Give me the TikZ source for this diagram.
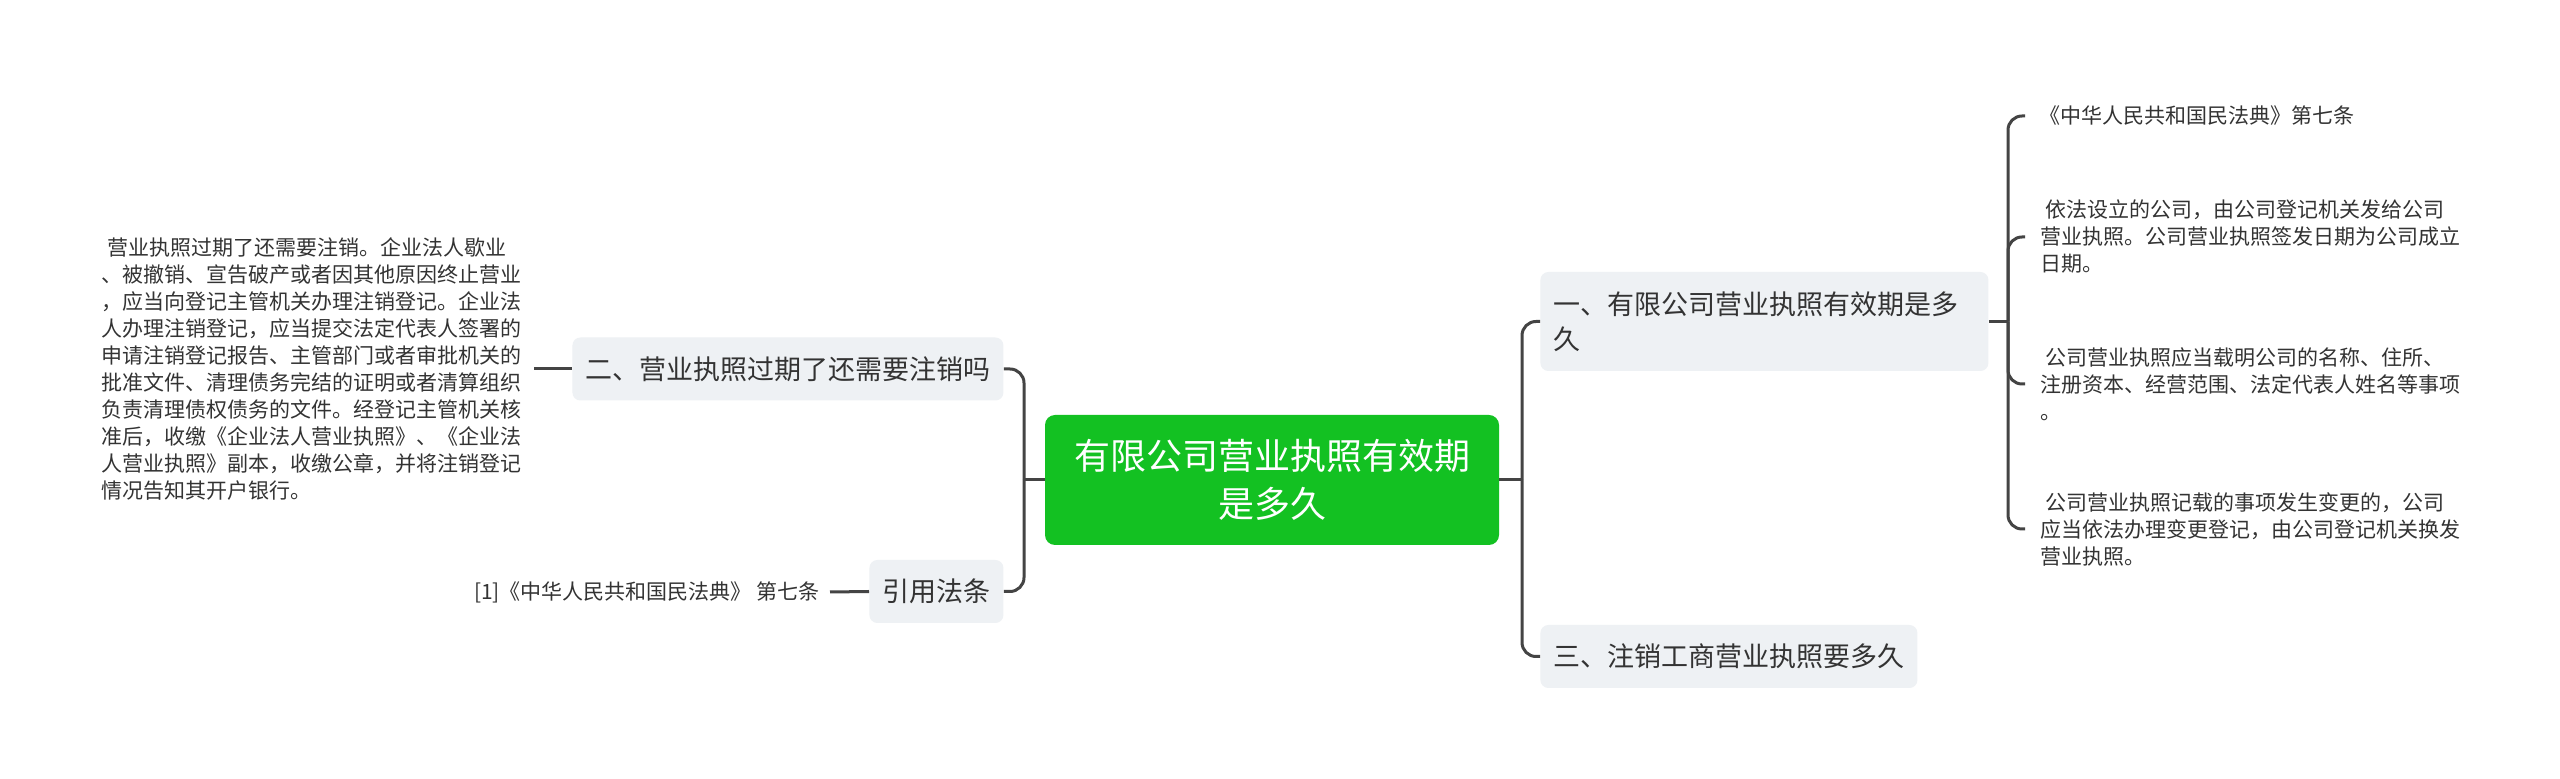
\documentclass[tikz,border=0pt]{standalone}
\usepackage{fontspec}
\setmainfont{Noto Sans CJK SC}
\definecolor{linec}{HTML}{444444}
\definecolor{boxc}{HTML}{EEF1F4}
\definecolor{textc}{HTML}{333333}
\definecolor{rootc}{HTML}{13C122}
\begin{document}
\begin{tikzpicture}[x=0.5pt,y=-0.5pt,
  conn/.style={draw=linec, line width=1.5pt},
  rc/.style={rounded corners=7pt},
  lvbox/.style={fill=boxc, rounded corners=4pt, text=textc,
    font=\fontsize{13.5}{17.5}\selectfont, inner xsep=6.5pt, inner ysep=0pt,
    minimum height=31.5pt, align=left},
  leaf/.style={text=textc, font=\fontsize{10.5}{13.5}\selectfont, align=left, inner ysep=0pt},
  rootbox/.style={fill=rootc, rounded corners=5pt, text=white,
    font=\fontsize{18}{24}\selectfont, minimum width=227pt, minimum height=65pt,
    align=center, inner sep=0pt}]
\useasboundingbox (0,0) rectangle (2560,779);
\fill[white] (0,0) rectangle (2560,779);

\node[rootbox] (root) at (1272,480) {有限公司营业执照有效期\\是多久};

\node[lvbox, anchor=west] (er) at (572,369) {二、营业执照过期了还需要注销吗};
\node[lvbox, anchor=west] (yy) at (869,591.5) {引用法条};
\node[lvbox, anchor=west, text width=211pt, minimum height=49.5pt] (y1) at (1540,321.5) {一、有限公司营业执照有效期是多\\久};
\node[lvbox, anchor=west] (y3) at (1540,656.5) {三、注销工商营业执照要多久};

\node[leaf, inner xsep=6pt, anchor=east] (ec) at (534,369) {\hspace*{3pt}营业执照过期了还需要注销。企业法人歇业\\、被撤销、宣告破产或者因其他原因终止营业\\，应当向登记主管机关办理注销登记。企业法\\人办理注销登记，应当提交法定代表人签署的\\申请注销登记报告、主管部门或者审批机关的\\批准文件、清理债务完结的证明或者清算组织\\负责清理债权债务的文件。经登记主管机关核\\准后，收缴《企业法人营业执照》、《企业法\\人营业执照》副本，收缴公章，并将注销登记\\情况告知其开户银行。};
\node[leaf, inner xsep=5pt, anchor=east] (yc) at (830,592) {[1]《中华人民共和国民法典》 第七条};

\node[leaf, inner xsep=7pt, anchor=west] (c1) at (2025,116) {《中华人民共和国民法典》第七条};
\node[leaf, inner xsep=7.5pt, anchor=west] (c2) at (2025,237) {\hspace*{2.5pt}依法设立的公司，由公司登记机关发给公司\\营业执照。公司营业执照签发日期为公司成立\\日期。};
\node[leaf, inner xsep=7.5pt, anchor=west] (c3) at (2025,384) {\hspace*{2.5pt}公司营业执照应当载明公司的名称、住所、\\注册资本、经营范围、法定代表人姓名等事项\\。};
\node[leaf, inner xsep=7.5pt, anchor=west] (c4) at (2025,529) {\hspace*{2.5pt}公司营业执照记载的事项发生变更的，公司\\应当依法办理变更登记，由公司登记机关换发\\营业执照。};

\coordinate (lt) at (1024,480);
\coordinate (rt) at (1522,480);
\coordinate (rt2) at (2008,321.5);

\draw[conn] (root.west) -- (lt);
\draw[conn, rc] (lt) |- (er.east);
\draw[conn, rc] (lt) |- (yy.east);
\draw[conn] (er.west) -- (ec.east);
\draw[conn] (yy.west) -- (yc.east);

\draw[conn] (root.east) -- (rt);
\draw[conn, rc] (rt) |- (y1.west);
\draw[conn, rc] (rt) |- (y3.west);
\draw[conn] (y1.east) -- (rt2);
\foreach \c in {c1,c2,c3,c4} \draw[conn, rc] (rt2) |- (\c.west);
\end{tikzpicture}
\end{document}
